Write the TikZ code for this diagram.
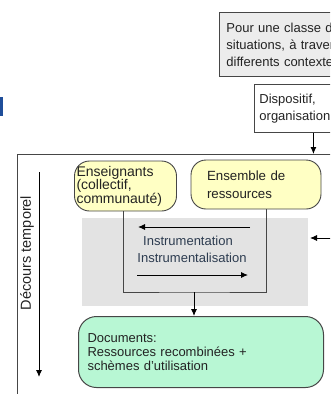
\documentclass[tikz,border=0pt]{standalone}
\usepackage{fontspec}
\setmainfont{Liberation Sans}
\usetikzlibrary{arrows.meta}
\definecolor{jaune}{RGB}{255,255,196}
\definecolor{vert}{RGB}{184,247,212}
\definecolor{grisclair}{RGB}{227,227,227}
\definecolor{grisboite}{RGB}{236,236,236}
\definecolor{gristrait}{RGB}{70,70,70}
\definecolor{texte}{RGB}{35,35,35}
\definecolor{bleutexte}{RGB}{45,60,80}
\definecolor{bleu}{RGB}{31,78,154}
\begin{document}
\begin{tikzpicture}[x=1pt, y=-1pt, node distance=130.5pt,
every node/.style={font=\fontsize{13}{14}\selectfont, text=texte},
boite/.style={rectangle, draw=gristrait, line width=0.9pt, align=left, anchor=north west, inner ysep=0pt, font=\fontsize{13}{17}\selectfont},
bulle/.style={rectangle, rounded corners=15pt, draw=gristrait, line width=0.9pt, fill=jaune, align=left, inner ysep=0pt},
lien/.style={draw=gristrait, line width=0.9pt},
fleche/.style={->, >={Latex[length=7pt,width=6pt]}, line width=0.9pt, black}]
\useasboundingbox (0,0) rectangle (330,394);
\clip (0,0) rectangle (330,394);
\node[boite, fill=grisboite, text width=140pt, inner xsep=7pt, minimum height=64pt] (classe) at (219,12) {Pour une classe de\\ situations, à travers\\ differents contextes};
\node[boite, fill=white, text width=108pt, inner xsep=5pt, minimum height=48pt] (dispositif) at (254,84) {Dispositif,\\ organisation};
\node[draw=gristrait, line width=1.1pt, anchor=north west, minimum width=400pt, minimum height=300pt, inner sep=0pt] (cadre) at (17,154) {};
\draw[fleche] (dispositif.south) -- (dispositif.south |- cadre.north);
\node[fill=bleu, anchor=north west, minimum width=2.5pt, minimum height=19pt, inner sep=0pt] (marque) at (0,97) {};
\node[rotate=90, font=\fontsize{14.5}{15}\selectfont] (decours) at (27,253) {Décours temporel};
\coordinate (t0) at (39,172);
\coordinate (t1) at (39,377);
\draw[fleche] (t0) -- (t1);
\node[fill=grisclair, anchor=north west, minimum width=226pt, minimum height=88pt, inner sep=0pt] (zone) at (82,218) {};
\node[bulle, text width=98pt, inner xsep=2pt, minimum height=50pt, font=\fontsize{14}{13.5}\selectfont] (enseignants) at (125.5,186) {Enseignants\\ (collectif,\\ communauté)};
\node[bulle, right of=enseignants, yshift=1.5pt, text width=98pt, inner xsep=16pt, minimum height=49pt, font=\fontsize{13.3}{18}\selectfont] (ressources) {Ensemble de\\ ressources};
\node[rectangle, rounded corners=18pt, draw=gristrait, line width=1pt, fill=vert, anchor=north west, text width=227pt, inner xsep=9pt, minimum height=71pt, align=left] (documents) at (78,316) {Documents:\\ Ressources recombinées +\\ schèmes d'utilisation};
\coordinate (bas) at (194,292);
\draw[lien] ([xshift=-2.5pt]enseignants.south) |- (bas) -| ([xshift=10.5pt]ressources.south);
\draw[fleche] (bas) -- (bas |- documents.north);
\node[text=bleutexte] (instrumentation) at (188,241) {Instrumentation};
\node[text=bleutexte] (instrumentalisation) at (192,258) {Instrumentalisation};
\coordinate (g1) at (250,227);
\coordinate (g2) at (138,227);
\draw[fleche] (g1) -- (g2);
\coordinate (d1) at (137,275);
\coordinate (d2) at (248,275);
\draw[fleche] (d1) -- (d2);
\coordinate (e1) at (340,238);
\coordinate (e2) at (310,238);
\draw[fleche] (e1) -- (e2);
\end{tikzpicture}
\end{document}
